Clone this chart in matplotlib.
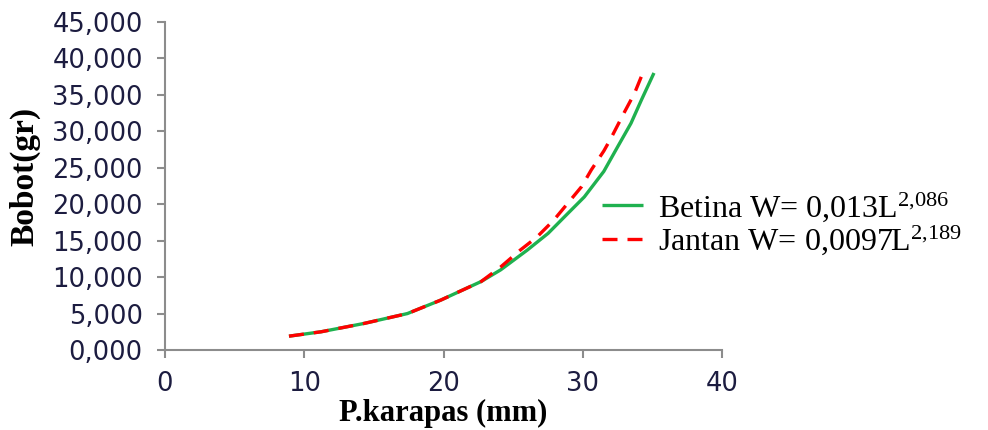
import matplotlib
matplotlib.use("Agg")
import matplotlib.pyplot as plt
from matplotlib.ticker import FuncFormatter, MultipleLocator

# Data
betina_x = [8.9, 11.2, 14.3, 17.4, 19.8, 22.7, 24.1, 26.0, 27.5, 28.9, 30.1, 31.5, 32.5, 33.45, 34.2, 35.1]
betina_y = [1900, 2500, 3650, 5000, 6850, 9400, 11000, 13700, 16000, 18700, 21000, 24500, 27900, 31100, 34300, 38000]

jantan_x = [8.9, 11.2, 14.3, 17.4, 19.8, 22.7, 24.1, 25.5, 26.7, 27.9, 28.9, 29.9, 30.6, 31.5, 32.0, 33.0, 33.7, 34.3]
jantan_y = [1900, 2500, 3650, 5000, 6850, 9400, 11400, 13700, 15500, 17800, 20100, 22400, 24700, 27300, 29000, 32700, 35200, 38000]

betina_label = "Betina W= 0,013L$^{2{,}086}$"
jantan_label = "Jantan W= 0,0097L$^{2{,}189}$"
x_label = "P.karapas (mm)"
y_label = "Bobot(gr)"

plt.rcParams["mathtext.fontset"] = "custom"
plt.rcParams["mathtext.rm"] = "Liberation Serif"
plt.rcParams["mathtext.it"] = "Liberation Serif"

fig = plt.figure(figsize=(9.88, 4.30), dpi=100)
ax = fig.add_axes([0.167, 0.186, 0.564, 0.763])

ax.plot(betina_x, betina_y, color="#1fb14f", lw=2.4, solid_capstyle="butt", label=betina_label)
ax.plot(jantan_x, jantan_y, color="#ff0000", lw=2.4, dashes=(4.5, 3), label=jantan_label)

ax.set_xlim(0, 40)
ax.set_ylim(0, 45000)
ax.xaxis.set_major_locator(MultipleLocator(10))
ax.yaxis.set_major_locator(MultipleLocator(5000))
ax.yaxis.set_major_formatter(FuncFormatter(lambda v, p: f"{v/1000:.3f}".replace(".", ",")))

for s in ["top", "right"]:
    ax.spines[s].set_visible(False)
for s in ["left", "bottom"]:
    ax.spines[s].set_color("#8c8c8c")
    ax.spines[s].set_linewidth(1.5)
ax.tick_params(axis="both", direction="out", length=6, width=1.5, color="#8c8c8c",
               labelsize=18.5, labelcolor="#1c1c40")
ax.tick_params(axis="y", pad=10)
ax.tick_params(axis="x", pad=9)
for lab in ax.get_xticklabels() + ax.get_yticklabels():
    lab.set_family("DejaVu Sans")

ax.set_xlabel(x_label, family="Liberation Serif", fontweight="bold", fontsize=22)
ax.set_ylabel(y_label, family="Liberation Serif", fontweight="bold", fontsize=24)
ax.xaxis.set_label_coords(0.5, -0.148)
ax.yaxis.set_label_coords(-0.224, 0.53)

leg = ax.legend(loc="center left", bbox_to_anchor=(0.593, 0.48), bbox_transform=fig.transFigure,
                frameon=False, prop={"family": "Liberation Serif", "size": 23},
                handlelength=1.3, handletextpad=0.45, labelspacing=0.0, borderpad=0.0)

fig.savefig("out.png", dpi=100)
